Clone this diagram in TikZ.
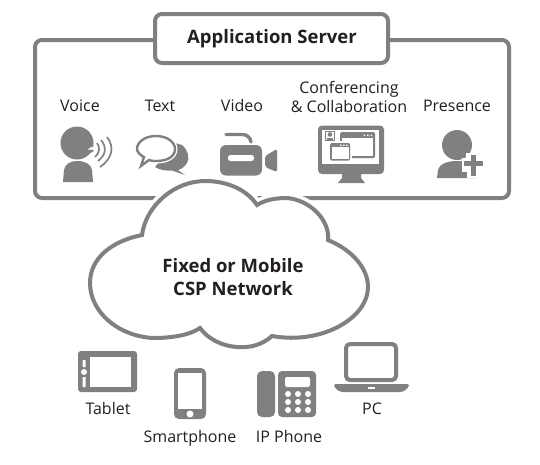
\documentclass[tikz,border=0pt]{standalone}
\usepackage{fontspec}
\setmainfont{Open Sans}
\definecolor{ig}{HTML}{808080}
\definecolor{ink}{HTML}{231F20}
\tikzset{
 lab/.style={text=ink,font=\fontsize{16}{19}\selectfont,inner sep=0pt,align=center},
 bl/.style={lab,anchor=base},
 ttl/.style={text=ink,font=\fontsize{18.5}{23.5}\selectfont\bfseries,inner sep=0pt,align=center},
 frame/.style={draw=ig,line width=4pt,rounded corners=7pt,fill=white},
 wave/.style={draw=ig,line width=1.7pt,fill=none},
}
\def\cloudoutline{(142,235) .. controls (146,205) and (175,181) .. (205,181)
 .. controls (228,181) and (247,190) .. (257,205)
 .. controls (265,200) and (275,198) .. (287,198)
 .. controls (310,200) and (330,220) .. (328,240)
 .. controls (352,250) and (368,268) .. (368,287)
 .. controls (368,318) and (322,345) .. (272,336)
 .. controls (262,345) and (250,348) .. (237,347)
 .. controls (222,346) and (208,339) .. (200,328)
 .. controls (190,335) and (172,338) .. (153,338)
 .. controls (118,336) and (90,312) .. (90,283)
 .. controls (90,258) and (112,241) .. (142,235) -- cycle}
\begin{document}
\begin{tikzpicture}[x=1pt,y=-1pt]
\useasboundingbox (0,0) rectangle (540,464);
% server box
\draw[frame] (35,40) rectangle (509,198);
\draw[frame] (155,14) rectangle (388,63);
\node[ttl] (title) at (272,39) {Application Server};
% labels
\node[bl] (voice) at (80,111) {Voice};
\node[bl] (text) at (160,111) {Text};
\node[bl] (video) at (242,111) {Video};
\node[lab] (conf) at (349,97) {Conferencing\\[-0.5pt]\& Collaboration};
\node[bl] (pres) at (457,111) {Presence};
\node[bl] (tablet) at (108,414) {Tablet};
\node[bl] (smart) at (190,442) {Smartphone};
\node[bl] (ipph) at (289,442) {IP Phone};
\node[bl] (pc) at (372,414) {PC};
% voice icon
\fill[ig] (77,143) circle (16.5);
\fill[ig] (88,146) -- (94,151) -- (87,155) -- cycle;
\fill[white] (92,146.5) -- (87.5,149.5) -- (94,149.8) -- cycle;
\fill[ig] (63,182) -- (64,170) .. controls (65,164) and (70,161) .. (77,161) .. controls (85,161) and (91,164) .. (92,170) -- (93,182) -- cycle;
\draw[wave] (97,143) .. controls (100,147) and (100,153) .. (95,157);
\draw[wave] (101,140) .. controls (107,147) and (106,155) .. (98,161);
\draw[wave] (107,137) .. controls (115,147) and (112,159) .. (100,167);
% text icon
\fill[ig] (175,143) -- (182,145) .. controls (188,150) and (190,158) .. (187,163) .. controls (185,166) and (182,169) .. (178,170) -- (185,175) -- (172,170.5) .. controls (166,171) and (160,170) .. (155,167) -- cycle;
\path[draw=white,line width=5pt,fill=white] (156,136) .. controls (167,136) and (175,142) .. (175,149) .. controls (175,157) and (167,161) .. (156,161) .. controls (153,161) and (151,161) .. (149,160) -- (141,166) -- (144,157) .. controls (140,155) and (137,152) .. (137,149) .. controls (137,142) and (145,136) .. (156,136) -- cycle;
\path[draw=ig,line width=2.4pt,fill=white,line join=miter] (156,136) .. controls (167,136) and (175,142) .. (175,149) .. controls (175,157) and (167,161) .. (156,161) .. controls (153,161) and (151,161) .. (149,160) -- (141,166) -- (144,157) .. controls (140,155) and (137,152) .. (137,149) .. controls (137,142) and (145,136) .. (156,136) -- cycle;
% video icon
\fill[ig,rounded corners=6pt] (220,145) rectangle (262,175.5);
\fill[white,rounded corners=2.5pt] (228,155) rectangle (254,161);
\draw[ig,line width=3.4pt,line cap=round] (226,134.5) -- (242,134.5) .. controls (247,134.5) and (250,137) .. (251,142);
\fill[ig,rounded corners=2pt] (265,156) -- (277,149) -- (277,172) -- (265,167) -- cycle;
% monitor icon
\fill[ig,rounded corners=4pt] (318,125.5) rectangle (384,174);
\fill[white] (322,129.5) rectangle (379,164);
\fill[ig] (342,174) -- (361,174) -- (361,178) -- (365,183) -- (338,183) -- (342,178) -- cycle;
\fill[ig] (325,130.5) rectangle (335,141);
\fill[white] (326,131.5) rectangle (334,140);
\fill[ig] (330,134.5) circle (2.3);
\fill[ig] (327,140) rectangle (333,137.5);
\fill[ig,rounded corners=1.5pt] (340,132) rectangle (375,158);
\fill[white] (342,138) rectangle (373,156);
\fill[white] (363.5,134.5) rectangle (365,136) (367,134.5) rectangle (368.5,136) (370.5,134.5) rectangle (372,136);
\fill[white] (328,141) rectangle (352,162);
\fill[ig,rounded corners=1.5pt] (330,143) rectangle (350,160.5);
\fill[white] (331.5,147) rectangle (348.5,159);
\fill[white] (340,144.5) rectangle (341.5,145.8) (343,144.5) rectangle (344.5,145.8) (346,144.5) rectangle (347.5,145.8);
% presence icon
\fill[ig] (457,145) circle (15);
\fill[ig] (437,178) -- (438,170) .. controls (440,163) and (449,161) .. (457,161) .. controls (465,161) and (474,163) .. (476,170) -- (477,178) -- cycle;
\fill[white] (466,153) rectangle (479,168);
\fill[white] (462,158) rectangle (485,172);
\fill[white] (467,168) rectangle (480,178);
\fill[ig] (471,155) rectangle (476,176);
\fill[ig] (464,161) rectangle (483,166);
% cloud with white halo
\draw[draw=white,line width=11pt,line join=round] \cloudoutline;
\draw[draw=ig,line width=4pt,fill=white,line join=miter] \cloudoutline;
\node[ttl] (csp) at (233,277) {Fixed or Mobile\\CSP Network};
% tablet
\fill[ig,rounded corners=3pt] (78,351) rectangle (137,392);
\fill[white] (90,357) rectangle (131,387);
\fill[white] (84,372) circle (3);
\fill[white] (82.5,360) rectangle (85.5,367) (82.5,377) rectangle (85.5,387);
% smartphone
\fill[ig,rounded corners=5pt] (174,368) rectangle (206,419);
\fill[white] (178,373) rectangle (202,409);
\fill[white] (190,414) circle (3.5);
% ip phone
\fill[ig,rounded corners=5pt] (257,371) rectangle (275,417);
\fill[ig,rounded corners=4pt] (278,371) rectangle (316,417);
\fill[white,rounded corners=2pt] (285,377) rectangle (310,387);
\foreach \kx in {288,298,308} \foreach \ky in {394,402,410} \fill[white] (\kx,\ky) circle (3);
% pc
\draw[ig,line width=4pt,rounded corners=4pt] (346,344) rectangle (396,380);
\fill[ig,rounded corners=2pt] (334,384) -- (409,384) -- (409,387) -- (403,392) -- (340,392) -- (334,387) -- cycle;
\fill[white] (368,386.5) rectangle (375,388.5);
\end{tikzpicture}
\end{document}
